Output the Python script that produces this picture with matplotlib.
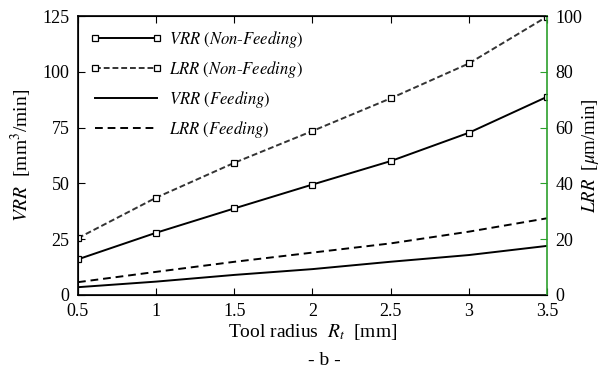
import matplotlib
matplotlib.use("Agg")
import matplotlib.pyplot as plt
from matplotlib.lines import Line2D

plt.rcParams['font.family'] = ['Liberation Serif', 'DejaVu Serif']
plt.rcParams['mathtext.fontset'] = 'stix'

tool_radius = [0.5, 1.0, 1.5, 2.0, 2.5, 3.0, 3.5]

# volumetric removal rate [mm^3/min], left axis
vrr_non_feeding = [16.0, 27.9, 38.8, 49.5, 60.0, 72.7, 88.8]
vrr_feeding = [3.5, 6.0, 9.0, 11.6, 14.9, 17.9, 22.0]

# linear removal rate [um/min], right axis
lrr_non_feeding = [20.4, 34.9, 47.4, 58.8, 70.5, 83.0, 99.8]
lrr_feeding = [4.6, 8.3, 11.9, 15.2, 18.5, 22.7, 27.5]

x_ticks = [0.5, 1, 1.5, 2, 2.5, 3, 3.5]
x_tick_labels = ["0.5", "1", "1.5", "2", "2.5", "3", "3.5"]
left_ticks = [0, 25, 50, 75, 100, 125]
right_ticks = [0, 20, 40, 60, 80, 100]

fig = plt.figure(figsize=(6.07, 3.80), dpi=100)
ax = fig.add_axes([0.1285, 0.2237, 0.7726, 0.734])
ax2 = ax.twinx()

mk = dict(marker='s', markersize=4.5, markerfacecolor='white', markeredgecolor='black', markeredgewidth=0.9)

ax.plot(tool_radius, vrr_non_feeding, color='black', lw=1.4, **mk)
ax.plot(tool_radius, vrr_feeding, color='black', lw=1.4)
ax2.plot(tool_radius, lrr_non_feeding, color='#333333', lw=1.4, dashes=(3, 1.5), **mk)
ax2.plot(tool_radius, lrr_feeding, color='black', lw=1.4, dashes=(4, 2.5))

ax.set_xlim(0.5, 3.5)
ax.set_ylim(0, 125)
ax2.set_ylim(0, 100)
ax.set_xticks(x_ticks)
ax.set_xticklabels(x_tick_labels)
ax.set_yticks(left_ticks)
ax2.set_yticks(right_ticks)

ax.tick_params(axis='both', direction='in', length=5, labelsize=13, top=True, right=False, pad=6)
ax2.tick_params(axis='y', direction='in', length=5, labelsize=13, color='#2ca02c', pad=6)
ax2.spines['right'].set_color('#2ca02c')
ax2.spines['right'].set_linewidth(1.2)
for side in ['left', 'bottom', 'top']:
    ax.spines[side].set_linewidth(1.2)
ax.spines['right'].set_visible(False)

ax.set_xlabel(r"Tool radius  $R_t$  [mm]", fontsize=14, labelpad=1)
ax.set_ylabel(r"$VRR$  [mm$^3$/min]", fontsize=14, labelpad=6)
ax2.set_ylabel(r"$LRR$  [$\mu$m/min]", fontsize=13.5)
ax2.yaxis.set_label_coords(1.07, 0.5)

handles = [
    Line2D([], [], color='black', lw=1.4, **mk),
    Line2D([], [], color='#333333', lw=1.4, dashes=(3, 1.5), **mk),
    Line2D([], [], color='black', lw=1.4),
    Line2D([], [], color='black', lw=1.4, dashes=(4, 2.5)),
]
labels = [r"$VRR$ $(Non$-$Feeding)$", r"$LRR$ $(Non$-$Feeding)$",
          r"$VRR$ $(Feeding)$", r"$LRR$ $(Feeding)$"]
leg = ax.legend(handles, labels, loc='upper left', frameon=False, fontsize=12,
                handlelength=4.3, labelspacing=0.55, numpoints=2,
                bbox_to_anchor=(0.0, 1.0), handletextpad=0.4, borderaxespad=0.35)

fig.text(0.535, 0.04, "- b -", ha='center', fontsize=14)

fig.savefig("out.png", dpi=100)
